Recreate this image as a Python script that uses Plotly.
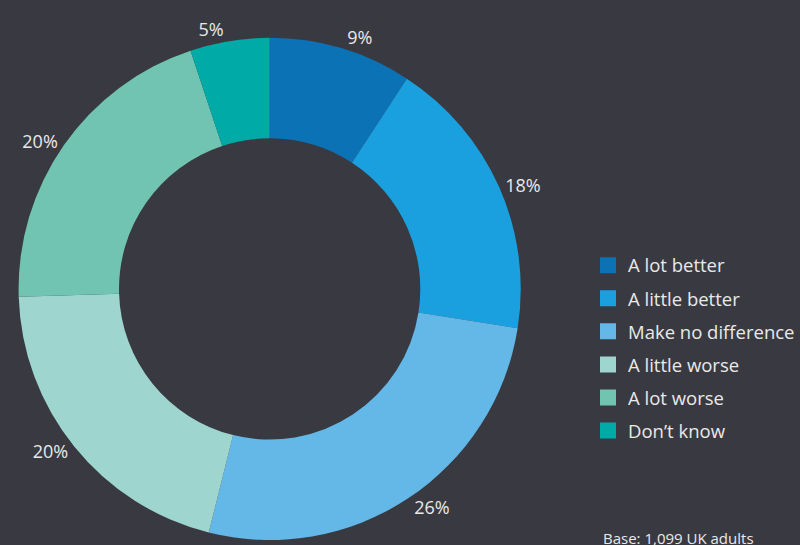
import plotly.graph_objects as go

# Answer categories and shares (%) read from the donut
categories = [
    "A lot better",
    "A little better",
    "Make no difference",
    "A little worse",
    "A lot worse",
    "Don\u2019t know",
]
shares = [9.2, 18.3, 26.4, 20.6, 20.4, 5.1]
share_labels = ["9%", "18%", "26%", "20%", "20%", "5%"]

colors = ["#0b72b5", "#1ba0df", "#63b8e8", "#9fd5cf", "#70c4b1", "#00aaa7"]
BG = "#393a41"
TEXT = "#e9e9e9"
FONT = "Open Sans"

W, H = 800, 545

fig = go.Figure()
fig.add_trace(go.Pie(
    labels=categories,
    values=shares,
    text=share_labels,
    textinfo="text",
    textposition="outside",
    hole=0.6,
    sort=False,
    direction="clockwise",
    rotation=0,
    showlegend=False,
    marker={"colors": colors, "line": {"width": 0}},
    outsidetextfont={"size": 18, "color": TEXT, "family": FONT},
    domain={"x": [18 / W, 522 / W], "y": [1 - 542 / H, 1 - 38 / H]},
    hoverinfo="label+percent",
))

# legend entries as separate groups so the vertical spacing can be set
for name, c in zip(categories, colors):
    fig.add_trace(go.Scatter(
        x=[None], y=[None],
        mode="markers",
        name=name,
        legendgroup=name,
        marker={"symbol": "square", "size": 16, "color": c},
        hoverinfo="skip",
    ))

fig.update_layout(
    width=W,
    height=H,
    paper_bgcolor=BG,
    plot_bgcolor=BG,
    margin={"t": 0, "b": 0, "l": 0, "r": 0},
    font={"family": FONT, "size": 18, "color": TEXT},
    showlegend=True,
    xaxis={"visible": False},
    yaxis={"visible": False},
    legend={
        "x": 589 / W,
        "xanchor": "left",
        "y": 1 - 349.5 / H,
        "yanchor": "middle",
        "font": {"size": 18.5, "color": TEXT, "family": FONT},
        "bgcolor": "rgba(0,0,0,0)",
        "traceorder": "grouped",
        "tracegroupgap": 6,
    },
    annotations=[{
        "text": "Base: 1,099 UK adults",
        "x": 602 / W,
        "xref": "paper",
        "xanchor": "left",
        "y": 1 - 540 / H,
        "yref": "paper",
        "yanchor": "middle",
        "showarrow": False,
        "font": {"size": 15, "color": TEXT, "family": FONT},
    }],
)

fig.write_html(
    "out.html",
    config={"displayModeBar": False},
    post_script="document.body.style.margin='0';",
)
